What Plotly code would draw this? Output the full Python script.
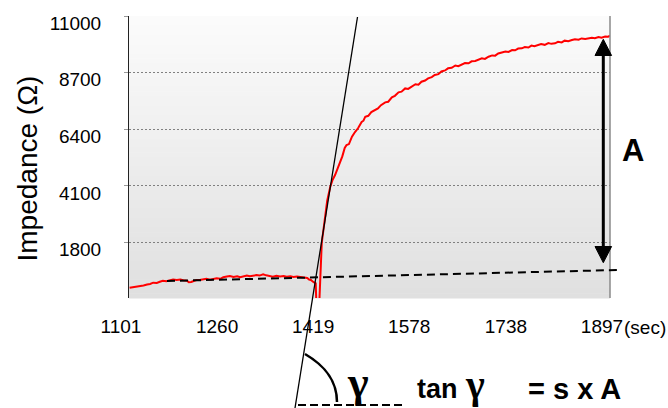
import plotly.graph_objects as go

# ---------------- data ----------------
time_s = [1102, 1108, 1113, 1119, 1125, 1131, 1136, 1141, 1147, 1152, 1157, 1163, 1168, 1174,
          1180, 1186, 1191, 1197, 1200, 1204, 1209, 1213, 1218, 1224, 1229, 1235, 1240, 1246,
          1252, 1257, 1263, 1268, 1274, 1280, 1285, 1291, 1296, 1301, 1306, 1312, 1317, 1323,
          1328, 1334, 1339, 1345, 1351, 1357, 1362, 1368, 1373, 1379, 1384, 1390, 1396, 1399,
          1402, 1406, 1410, 1411, 1416,
          1420, 1423, 1425, 1429, 1434, 1438, 1442, 1446, 1450, 1454, 1458, 1461, 1465, 1470,
          1475, 1480, 1486, 1489, 1492, 1497, 1502, 1508, 1513, 1518, 1525, 1530, 1536, 1541,
          1547, 1552, 1558, 1563, 1569, 1575, 1580, 1585, 1591, 1596, 1602, 1607, 1613, 1618,
          1624, 1629, 1635, 1641, 1646, 1652, 1657, 1663, 1668, 1674, 1680, 1685, 1690, 1696,
          1702, 1707, 1712, 1718, 1724, 1729, 1735, 1740, 1745, 1751, 1756, 1762, 1767, 1772,
          1777, 1783, 1789, 1795, 1800, 1806, 1811, 1817, 1822, 1828, 1834, 1839, 1845, 1850,
          1856, 1861, 1867, 1872, 1878, 1883, 1889, 1894, 1897]
impedance = [-30, -10, 10, 50, 60, 100, 120, 172, 160, 210, 253, 230, 270, 300,
             282, 300, 270, 253, 190, 200, 250, 282, 282, 300, 330, 290, 310, 350,
             330, 390, 420, 444, 400, 430, 391, 420, 460, 430, 444, 480, 460, 513,
             470, 440, 416, 450, 420, 440, 416, 430, 400, 420, 403, 380, 363, 300,
             282, 200, 148, -600, -600,
             1784, 2400, 2839, 3500, 4057, 4350, 4545, 4800, 5032, 5300, 5641, 5763, 5800, 6100,
             6290, 6441, 6696, 6750, 6912, 6950, 7100, 7184, 7250, 7380, 7496, 7520, 7700, 7760,
             7902, 7930, 8060, 8040, 8130, 8230, 8210, 8333, 8380, 8470, 8520, 8605, 8640, 8750,
             8790, 8877, 8900, 8990, 8960, 9039, 9090, 9080, 9160, 9173, 9230, 9280, 9260, 9348,
             9400, 9390, 9480, 9526, 9560, 9540, 9620, 9610, 9680, 9689, 9740, 9720, 9800, 9770,
             9823, 9860, 9830, 9900, 9870, 9892, 9950, 9930, 10000, 9980, 10026, 10060, 10040, 10090,
             10070, 10095, 10120, 10100, 10150, 10120, 10170, 10160, 10200]

x_ticks = [1101, 1260, 1419, 1578, 1738, 1897]
y_ticks = [1800, 4100, 6400, 8700, 11000]
x_range = [1101, 1897]
y_range = [-450, 11001]

# ---------------- layout geometry (pixels) ----------------
WIDTH, HEIGHT = 668, 408
L, R, T, B = 129, 58, 16, 110
PW, PH = WIDTH - L - R, HEIGHT - T - B

def fx(px):
    return (px - L) / PW

def fy(py):
    return (T + PH - py) / PH

SANS = "Liberation Sans, Arial, sans-serif"
SERIF = "Liberation Serif, Times New Roman, serif"

fig = go.Figure()
fig.add_trace(go.Scatter(x=time_s, y=impedance, mode="lines",
                         line=dict(color="#ff0000", width=2), showlegend=False,
                         hoverinfo="skip"))

shapes = []
# gradient background of the plot area
N = 60
top_c, bot_c = (251, 251, 251), (224, 224, 224)
for i in range(N):
    f = i / (N - 1)
    c = tuple(round(top_c[k] + (bot_c[k] - top_c[k]) * f) for k in range(3))
    shapes.append(dict(type="rect", xref="paper", yref="paper", layer="below",
                       x0=0, x1=1, y0=1 - (i + 1) / N - 0.002, y1=1 - i / N,
                       fillcolor="rgb(%d,%d,%d)" % c, line=dict(width=0)))
# right border
shapes.append(dict(type="line", xref="paper", yref="paper", x0=1, x1=1, y0=0, y1=1,
                   line=dict(color="#8a8a8a", width=1.5)))
# tangent line
shapes.append(dict(type="line", xref="paper", yref="paper",
                   x0=fx(295), y0=fy(408), x1=fx(357.5), y1=fy(17),
                   line=dict(color="black", width=1.3)))
# dashed baseline
shapes.append(dict(type="line", xref="paper", yref="paper",
                   x0=fx(167), y0=fy(281), x1=fx(617), y1=fy(270),
                   line=dict(color="black", width=2, dash="8px,5px")))
# dashed horizontal under gamma
shapes.append(dict(type="line", xref="paper", yref="paper",
                   x0=fx(298), y0=fy(405), x1=fx(402), y1=fy(405),
                   line=dict(color="black", width=2, dash="8px,4px")))
# angle arc
p = [(305, 354), (322, 364), (337, 378), (337, 402)]
pp = [(fx(a), fy(b)) for a, b in p]
shapes.append(dict(type="path", xref="paper", yref="paper",
                   path="M %f %f C %f %f, %f %f, %f %f" % (pp[0] + pp[1] + pp[2] + pp[3]),
                   line=dict(color="black", width=2.5)))
# double arrow A
shapes.append(dict(type="line", xref="paper", yref="paper",
                   x0=fx(603.3), x1=fx(603.3), y0=fy(52), y1=fy(250),
                   line=dict(color="black", width=3)))
for tip, base in ((39.3, 55.5), (262.7, 246.5)):
    path = "M %f %f L %f %f L %f %f Z" % (fx(603.3), fy(tip), fx(595), fy(base),
                                          fx(611.6), fy(base))
    shapes.append(dict(type="path", xref="paper", yref="paper", path=path,
                       fillcolor="black", line=dict(color="black", width=1)))

annotations = [
    dict(text="Impedance (Ω)", x=fx(27), y=fy(168.5), textangle=-90,
         font=dict(family=SANS, size=28, color="black")),
    dict(text="(sec)", x=fx(645), y=fy(327), font=dict(family=SANS, size=19, color="black")),
    dict(text="<b>A</b>", x=fx(632.5), y=fy(150), font=dict(family=SANS, size=31, color="black")),
    dict(text="<b>γ</b>", x=fx(357.5), y=fy(382), font=dict(family=SERIF, size=44, color="black")),
    dict(text="<b>tan</b>", x=fx(437.5), y=fy(389), font=dict(family=SANS, size=27, color="black")),
    dict(text="<b>γ</b>", x=fx(475), y=fy(384), font=dict(family=SERIF, size=40, color="black")),
    dict(text="<b>= s x A</b>", x=fx(574.5), y=fy(389), font=dict(family=SANS, size=29, color="black")),
]
for a in annotations:
    a.update(xref="paper", yref="paper", showarrow=False, xanchor="center", yanchor="middle")

fig.update_layout(
    width=WIDTH, height=HEIGHT,
    margin=dict(l=L, r=R, t=T, b=B, pad=0),
    paper_bgcolor="white", plot_bgcolor="rgba(0,0,0,0)",
    shapes=shapes, annotations=annotations, showlegend=False,
    xaxis=dict(range=x_range, tickmode="array", tickvals=x_ticks,
               ticktext=[str(v) for v in x_ticks], showgrid=False, zeroline=False,
               showline=False, ticks="", ticklabelshift=-8, ticklabelstandoff=15,
               tickfont=dict(family=SANS, size=19, color="black")),
    yaxis=dict(range=y_range, tickmode="array", tickvals=y_ticks,
               ticktext=[str(v) for v in y_ticks], showgrid=True, gridcolor="#808080",
               griddash="2px,2px", gridwidth=1, zeroline=False, showline=True,
               linecolor="#222222", linewidth=1, ticks="outside", ticklen=4,
               tickcolor="#999999", ticklabelstandoff=19, ticklabelshift=7,
               tickfont=dict(family=SANS, size=19, color="black")),
)

fig.write_html("out.html")
